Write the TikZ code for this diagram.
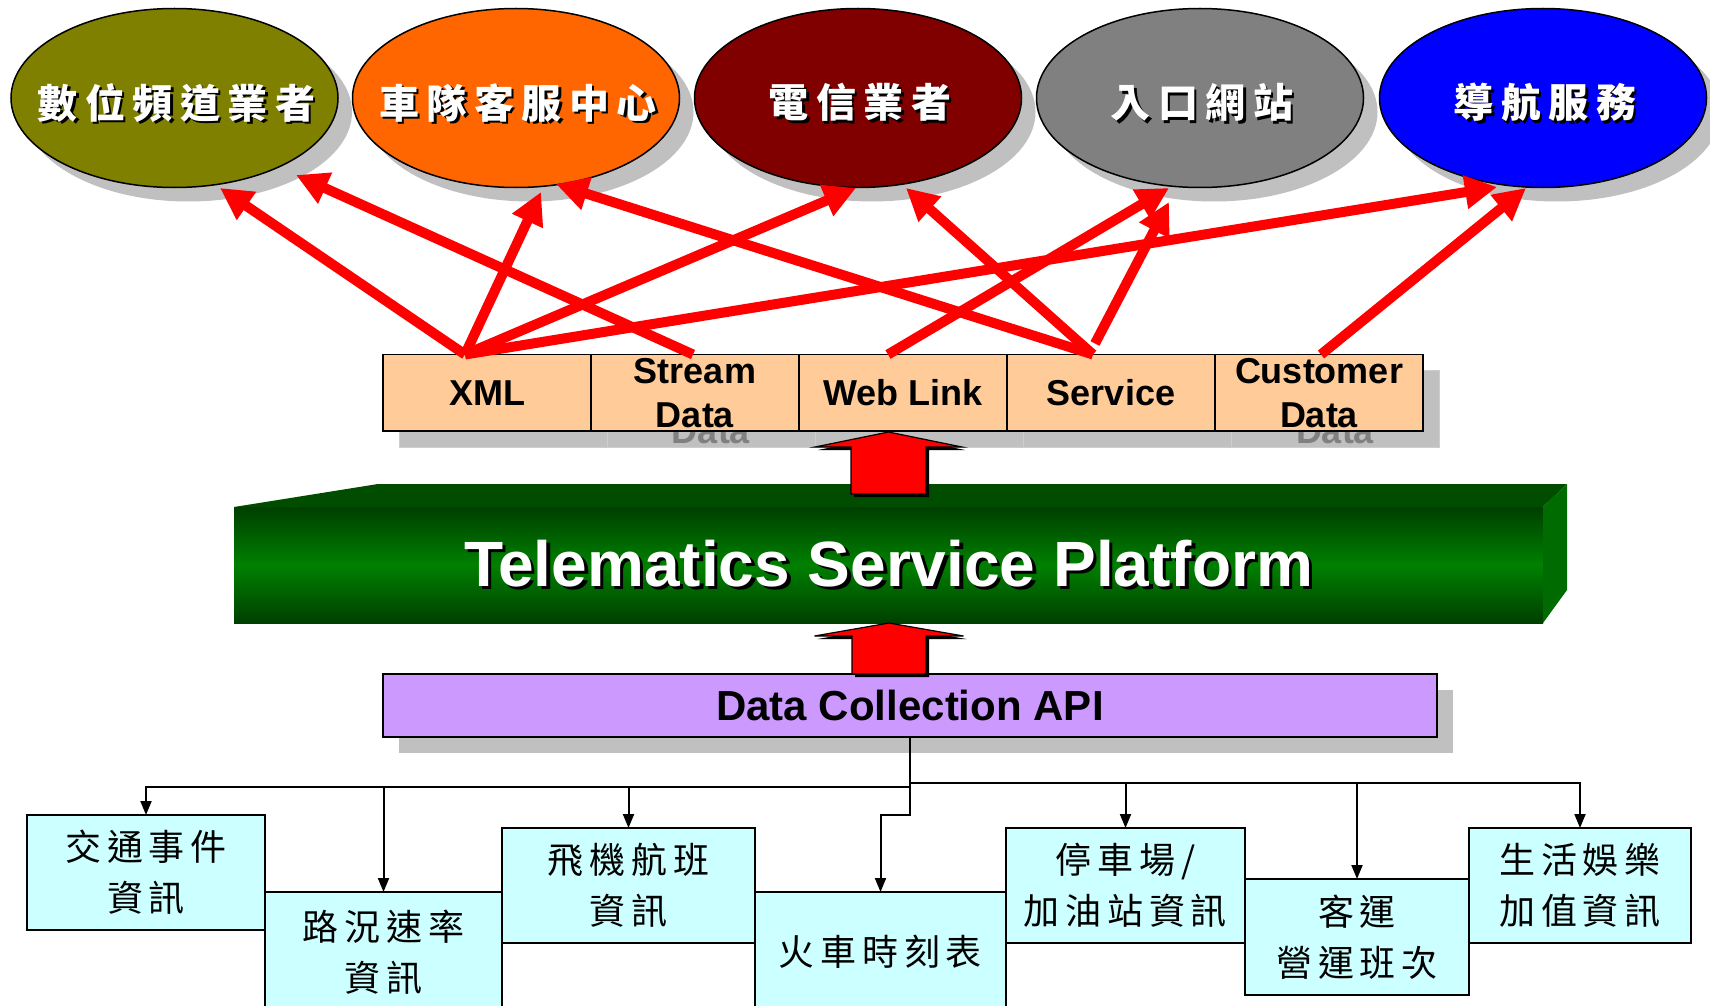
\documentclass[tikz,border=0pt]{standalone}
\usepackage{fontspec}
\setmainfont{Liberation Sans}
\newfontfamily\cjkE[LetterSpace=19]{Noto Sans CJK TC}
\newfontfamily\cjkB[LetterSpace=16]{Noto Sans CJK TC}
\usetikzlibrary{arrows.meta,calc,shapes.geometric}
\definecolor{cA}{HTML}{808000}
\definecolor{cB}{HTML}{FF6600}
\definecolor{cC}{HTML}{800000}
\definecolor{cD}{HTML}{808080}
\definecolor{cE}{HTML}{0000FF}
\definecolor{shgray}{HTML}{C0C0C0}
\definecolor{peach}{HTML}{FFCC99}
\definecolor{lav}{HTML}{CC99FF}
\definecolor{lcyan}{HTML}{CCFFFF}
\definecolor{gdark}{HTML}{003F00}
\definecolor{gmid}{HTML}{008000}
\definecolor{gtop}{HTML}{004D00}
\definecolor{gside}{HTML}{006B00}
\definecolor{redc}{HTML}{FF0000}
\newcommand\shtxt[3]{\rlap{\kern#3\raisebox{-#3}{\textcolor{black}{#1}}}\textcolor{#2}{#1}}
\begin{document}
\begin{tikzpicture}[x=1pt,y=-1pt,
  every node/.style={inner sep=0pt, outer sep=0pt},
  ell/.style={ellipse, draw=black, line width=1.5pt, minimum width=327pt, minimum height=179pt},
  ellsh/.style={ellipse, fill=shgray, minimum width=327pt, minimum height=179pt},
  etext/.style={font=\cjkE\bfseries\fontsize{40}{44}\selectfont},
  cell/.style={rectangle, draw=black, line width=1.5pt, fill=peach, minimum width=208pt, minimum height=76.5pt, align=center, font=\bfseries\fontsize{36}{44}\selectfont},
  cellsh/.style={rectangle, draw=shgray!80!white, line width=1pt, fill=shgray, text=gray, minimum width=208pt, minimum height=76.5pt, align=center, font=\bfseries\fontsize{36}{44}\selectfont},
  redarr/.style={draw=redc, line width=10pt, -{Triangle[length=32pt,width=32pt]}},
  blockarr/.style={fill=redc, draw=black, line width=1.2pt},
  lbox/.style={rectangle, draw=black, line width=2pt, fill=lcyan, align=center, font=\cjkB\fontsize{36}{51}\selectfont},
  bus/.style={draw=black, line width=2pt, -{Triangle[length=14pt,width=11pt]}}
]
\useasboundingbox (0,0) rectangle (1710,1006);
\clip (0,0) rectangle (1710,1006);
\fill[white] (0,0) rectangle (1710,1006);

% ellipse shadows
\node[ellsh] (e1s) at (188.5,112) {};
\node[ellsh] (e2s) at (530,112) {};
\node[ellsh] (e3s) at (872,112) {};
\node[ellsh] (e4s) at (1214,112) {};
\node[ellsh] (e5s) at (1557,112) {};
% ellipses
\node[ell, fill=cA] (e1) at (174.5,98) {};
\node[ell, fill=cB] (e2) at (516,98) {};
\node[ell, fill=cC] (e3) at (858,98) {};
\node[ell, fill=cD] (e4) at (1200,98) {};
\node[ell, fill=cE] (e5) at (1543,98) {};
\node[etext] (e1t) at ($(e1)+(2,6)$) {\shtxt{數位頻道業者}{white}{2.5pt}};
\node[etext] (e2t) at ($(e2)+(2,6)$) {\shtxt{車隊客服中心}{white}{2.5pt}};
\node[etext] (e3t) at ($(e3)+(2,6)$) {\shtxt{電信業者}{white}{2.5pt}};
\node[etext] (e4t) at ($(e4)+(2,6)$) {\shtxt{入口網站}{white}{2.5pt}};
\node[etext] (e5t) at ($(e5)+(2,6)$) {\shtxt{導航服務}{white}{2.5pt}};

% table shadow
\node[cellsh] (ts1) at (503,408.75) {XML};
\node[cellsh] (ts2) at (711,408.75) {Stream\\Data};
\node[cellsh] (ts3) at (919,408.75) {Web Link};
\node[cellsh] (ts4) at (1127,408.75) {Service};
\node[cellsh] (ts5) at (1335,408.75) {Customer\\Data};
% table
\node[cell] (t1) at (487,392.75) {XML};
\node[cell] (t2) at (695,392.75) {Stream\\Data};
\node[cell] (t3) at (903,392.75) {Web Link};
\node[cell] (t4) at (1111,392.75) {Service};
\node[cell] (t5) at (1319,392.75) {Customer\\Data};

% red connectors
\draw[redarr] ($(t1.north)+(-22,0)$) -- ($(e1)+(45.5,90)$);
\draw[redarr] ($(t2.north)+(-2,0)$) -- ($(e1)+(121.5,77)$);
\draw[redarr] ($(t1.north)+(-22,0)$) -- ($(e2)+(25,94)$);
\draw[redarr] ($(t1.north)+(-22,0)$) -- ($(e3)+(-2,90)$);
\draw[redarr] ($(t1.north)+(-22,0)$) -- ($(e5)+(-46,89)$);
\draw[redarr] ($(t3.north)+(-15,0)$) -- ($(e4)+(-31,90)$);
\draw[redarr] ($(t4.north)+(-18,0)$) -- ($(e2)+(40,86)$);
\draw[redarr] ($(t4.north)+(-18,0)$) -- ($(e3)+(48,90)$);
\draw[redarr] ($(t4.north)+(-16,-11)$) -- ($(e4)+(-31,104)$);
\draw[redarr] ($(t5.north)+(2,0)$) -- ($(e5)+(-17,90)$);

% platform
\node[rectangle, minimum width=1309pt, minimum height=116pt,
  top color=gdark, bottom color=gdark, middle color=gmid,
  font=\bfseries\fontsize{64}{70}\selectfont] (plat) at (888.5,565)
  {\shtxt{Telematics Service Platform}{white}{3.5pt}};
\fill[gtop] (plat.north west) -- ++(144,-23) -- ($(plat.north east)+(24,-23)$) -- (plat.north east) -- cycle;
\fill[gside] (plat.north east) -- ++(24,-23) -- ++(0,106) -- (plat.south east) -- cycle;

% upper block arrow
\fill[black, shift={($(plat.north)+(3,3)$)}] (-37.5,-13) -- (-37.5,-60) -- (-73.5,-60) -- (0,-75) -- (73.5,-60) -- (37.5,-60) -- (37.5,-13) -- cycle;
\draw[blockarr, shift={(plat.north)}] (-37.5,-13) -- (-37.5,-60) -- (-73.5,-60) -- (0,-75) -- (73.5,-60) -- (37.5,-60) -- (37.5,-13) -- cycle;

% API
\node[rectangle, fill=shgray, minimum width=1054pt, minimum height=63pt] (apis) at (926,721.5) {};
\node[rectangle, draw=black, line width=1.5pt, fill=lav, minimum width=1054pt, minimum height=63pt,
  font=\bfseries\fontsize{42}{48}\selectfont] (api) at (910,705.5) {Data Collection API};

% lower block arrow
\fill[black, shift={($(api.north)+(-18,3)$)}] (-37,0) -- (-37,-38) -- (-74.5,-38) -- (0,-51) -- (74.5,-38) -- (37,-38) -- (37,0) -- cycle;
\draw[blockarr, shift={($(api.north)+(-21,0)$)}] (-37,0) -- (-37,-38) -- (-74.5,-38) -- (0,-51) -- (74.5,-38) -- (37,-38) -- (37,0) -- cycle;

% bottom boxes
\node[lbox, minimum width=238pt, minimum height=115pt] (b1) at (146,872.5) {交通事件\\資訊};
\node[lbox, minimum width=237pt, minimum height=120pt] (b2) at (383.5,952) {路況速率\\資訊};
\node[lbox, minimum width=253pt, minimum height=115pt] (b3) at (628.5,885.5) {飛機航班\\資訊};
\node[lbox, minimum width=251pt, minimum height=120pt] (b4) at (880.5,952) {火車時刻表};
\node[lbox, minimum width=239pt, minimum height=115pt] (b5) at (1125.5,885.5) {停車場/\\加油站資訊};
\node[lbox, minimum width=224pt, minimum height=116pt] (b6) at (1357,937) {客運\\營運班次};
\node[lbox, minimum width=222pt, minimum height=115pt] (b7) at (1580,885.5) {生活娛樂\\加值資訊};

% tree connectors
\coordinate (busL) at ($(api.south)+(0,50)$);
\coordinate (busR) at ($(api.south)+(0,46)$);
\draw[bus] (api.south) -- ++(0,78) -| (b4.north);
\draw[bus] (busL) -| (b1.north);
\draw[bus] (busL) -| (b2.north);
\draw[bus] (busL) -| (b3.north);
\draw[bus] (busR) -| (b5.north);
\draw[bus] (busR) -| (b6.north);
\draw[bus] (busR) -| (b7.north);
\end{tikzpicture}
\end{document}
